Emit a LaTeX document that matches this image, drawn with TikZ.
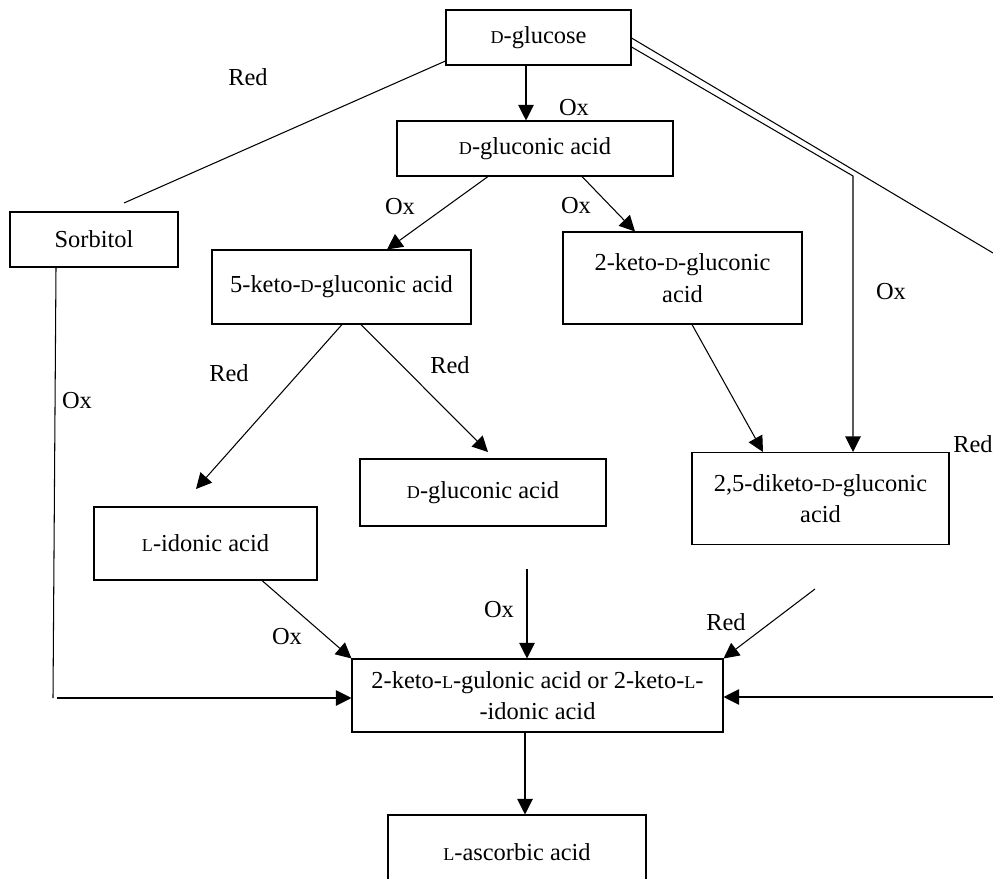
\documentclass[tikz,border=0pt]{standalone}
\usepackage{fontspec}
\setmainfont{Liberation Serif}
\usetikzlibrary{arrows.meta}
\newcommand\scD{{\fontsize{10.3}{12}\selectfont D}}
\newcommand\scL{{\fontsize{10.3}{12}\selectfont L}}
\tikzset{
  caja/.style={draw, inner sep=2pt, align=center, font=\fontsize{13.9}{18}\selectfont},
  etq/.style={inner sep=0pt, font=\fontsize{13.9}{18}\selectfont}
}

\begin{document}
\begin{tikzpicture}[>={Triangle[length=3.1mm, width=3.1mm]}, line width=0.6pt, x=0.2mm, y=-0.2mm]
  \useasboundingbox (0,0) rectangle (993,879);
  % cajas
  \node[caja, minimum width=3.7cm, minimum height=1.1cm] (glc) at (538.5,37.5) {\scD-glucose};
  \node[caja, minimum width=5.52cm, minimum height=1.1cm] (gla) at (535,148.5) {\scD-gluconic acid};
  \node[caja, minimum width=3.36cm, minimum height=1.1cm] (sorb) at (94,239.5) {Sorbitol};
  \node[caja, minimum width=5.18cm, minimum height=1.48cm] (kg5) at (341.5,287) {5-keto-\scD-gluconic acid};
  \node[caja, minimum width=4.78cm, minimum height=1.84cm] (kg2) at (682.5,278) {2-keto-\scD-gluconic\\acid};
  \node[caja, minimum width=4.92cm, minimum height=1.34cm] (glb) at (483,492.5) {\scD-gluconic acid};
  \node[caja, minimum width=4.46cm, minimum height=1.46cm] (ido) at (205.5,543.5) {\scL-idonic acid};
  \node[caja, minimum width=5.14cm, minimum height=1.84cm] (dkg) at (820.5,498.5) {2,5-diketo-\scD-gluconic\\acid};
  \node[caja, minimum width=7.42cm, minimum height=1.46cm] (klg) at (537.5,695.5) {2-keto-\scL-gulonic acid or 2-keto-\scL-\\-idonic acid};
  \node[caja, minimum width=5.16cm, minimum height=1.48cm] (asc) at (517,852) {\scL-ascorbic acid};
  % extremos libres
  \coordinate (sorbin) at (124,203);
  \coordinate (idoin) at (196,489);
  \coordinate (glbin) at (488,452);
  \coordinate (codo) at (853,176);
  \coordinate (fuera) at (993,253);
  \coordinate (bajo) at (53,698);
  \coordinate (oxtop) at (527,569);
  \coordinate (redtop) at (815,589);
  \coordinate (dcha) at (993,697);
  % flechas
  \draw[->] (526,0 |- glc.south) -- (526,0 |- gla.north);
  \draw (0,61 -| glc.west) -- (sorbin);
  \draw (0,38 -| glc.east) -- (fuera);
  \draw[->] (0,47 -| glc.east) -- (codo) -- (853,0 |- dkg.north);
  \draw[->] (488,0 |- gla.south) -- (387,0 |- kg5.north);
  \draw[->] (582,0 |- gla.south) -- (635,0 |- kg2.north);
  \draw[->] (342,0 |- kg5.south) -- (idoin);
  \draw[->] (361,0 |- kg5.south) -- (glbin);
  \draw[->] (692,0 |- kg2.south) -- (763,0 |- dkg.north);
  \draw (56,0 |- sorb.south) -- (bajo);
  \draw[->] (57,698) -- (0,698 -| klg.west);
  \draw[->] (262,0 |- ido.south) -- (klg.north west);
  \draw[->] (oxtop) -- (527,0 |- klg.north);
  \draw[->] (redtop) -- (klg.north east);
  \draw[->] (dcha) -- (0,697 -| klg.east);
  \draw[->] (525,0 |- klg.south) -- (525,0 |- asc.north);
  % etiquetas
  \node[etq] (r1) at (248,77) {Red};
  \node[etq] (o1) at (574,108) {Ox};
  \node[etq] (o2) at (400,207) {Ox};
  \node[etq] (o3) at (576,206) {Ox};
  \node[etq] (o4) at (891,292) {Ox};
  \node[etq] (r2) at (229,373) {Red};
  \node[etq] (r3) at (450,365) {Red};
  \node[etq] (o5) at (77,401) {Ox};
  \node[etq] (r4) at (973,444) {Red};
  \node[etq] (o6) at (287,637) {Ox};
  \node[etq] (o7) at (499,610) {Ox};
  \node[etq] (r5) at (726,622) {Red};
\end{tikzpicture}
\end{document}
